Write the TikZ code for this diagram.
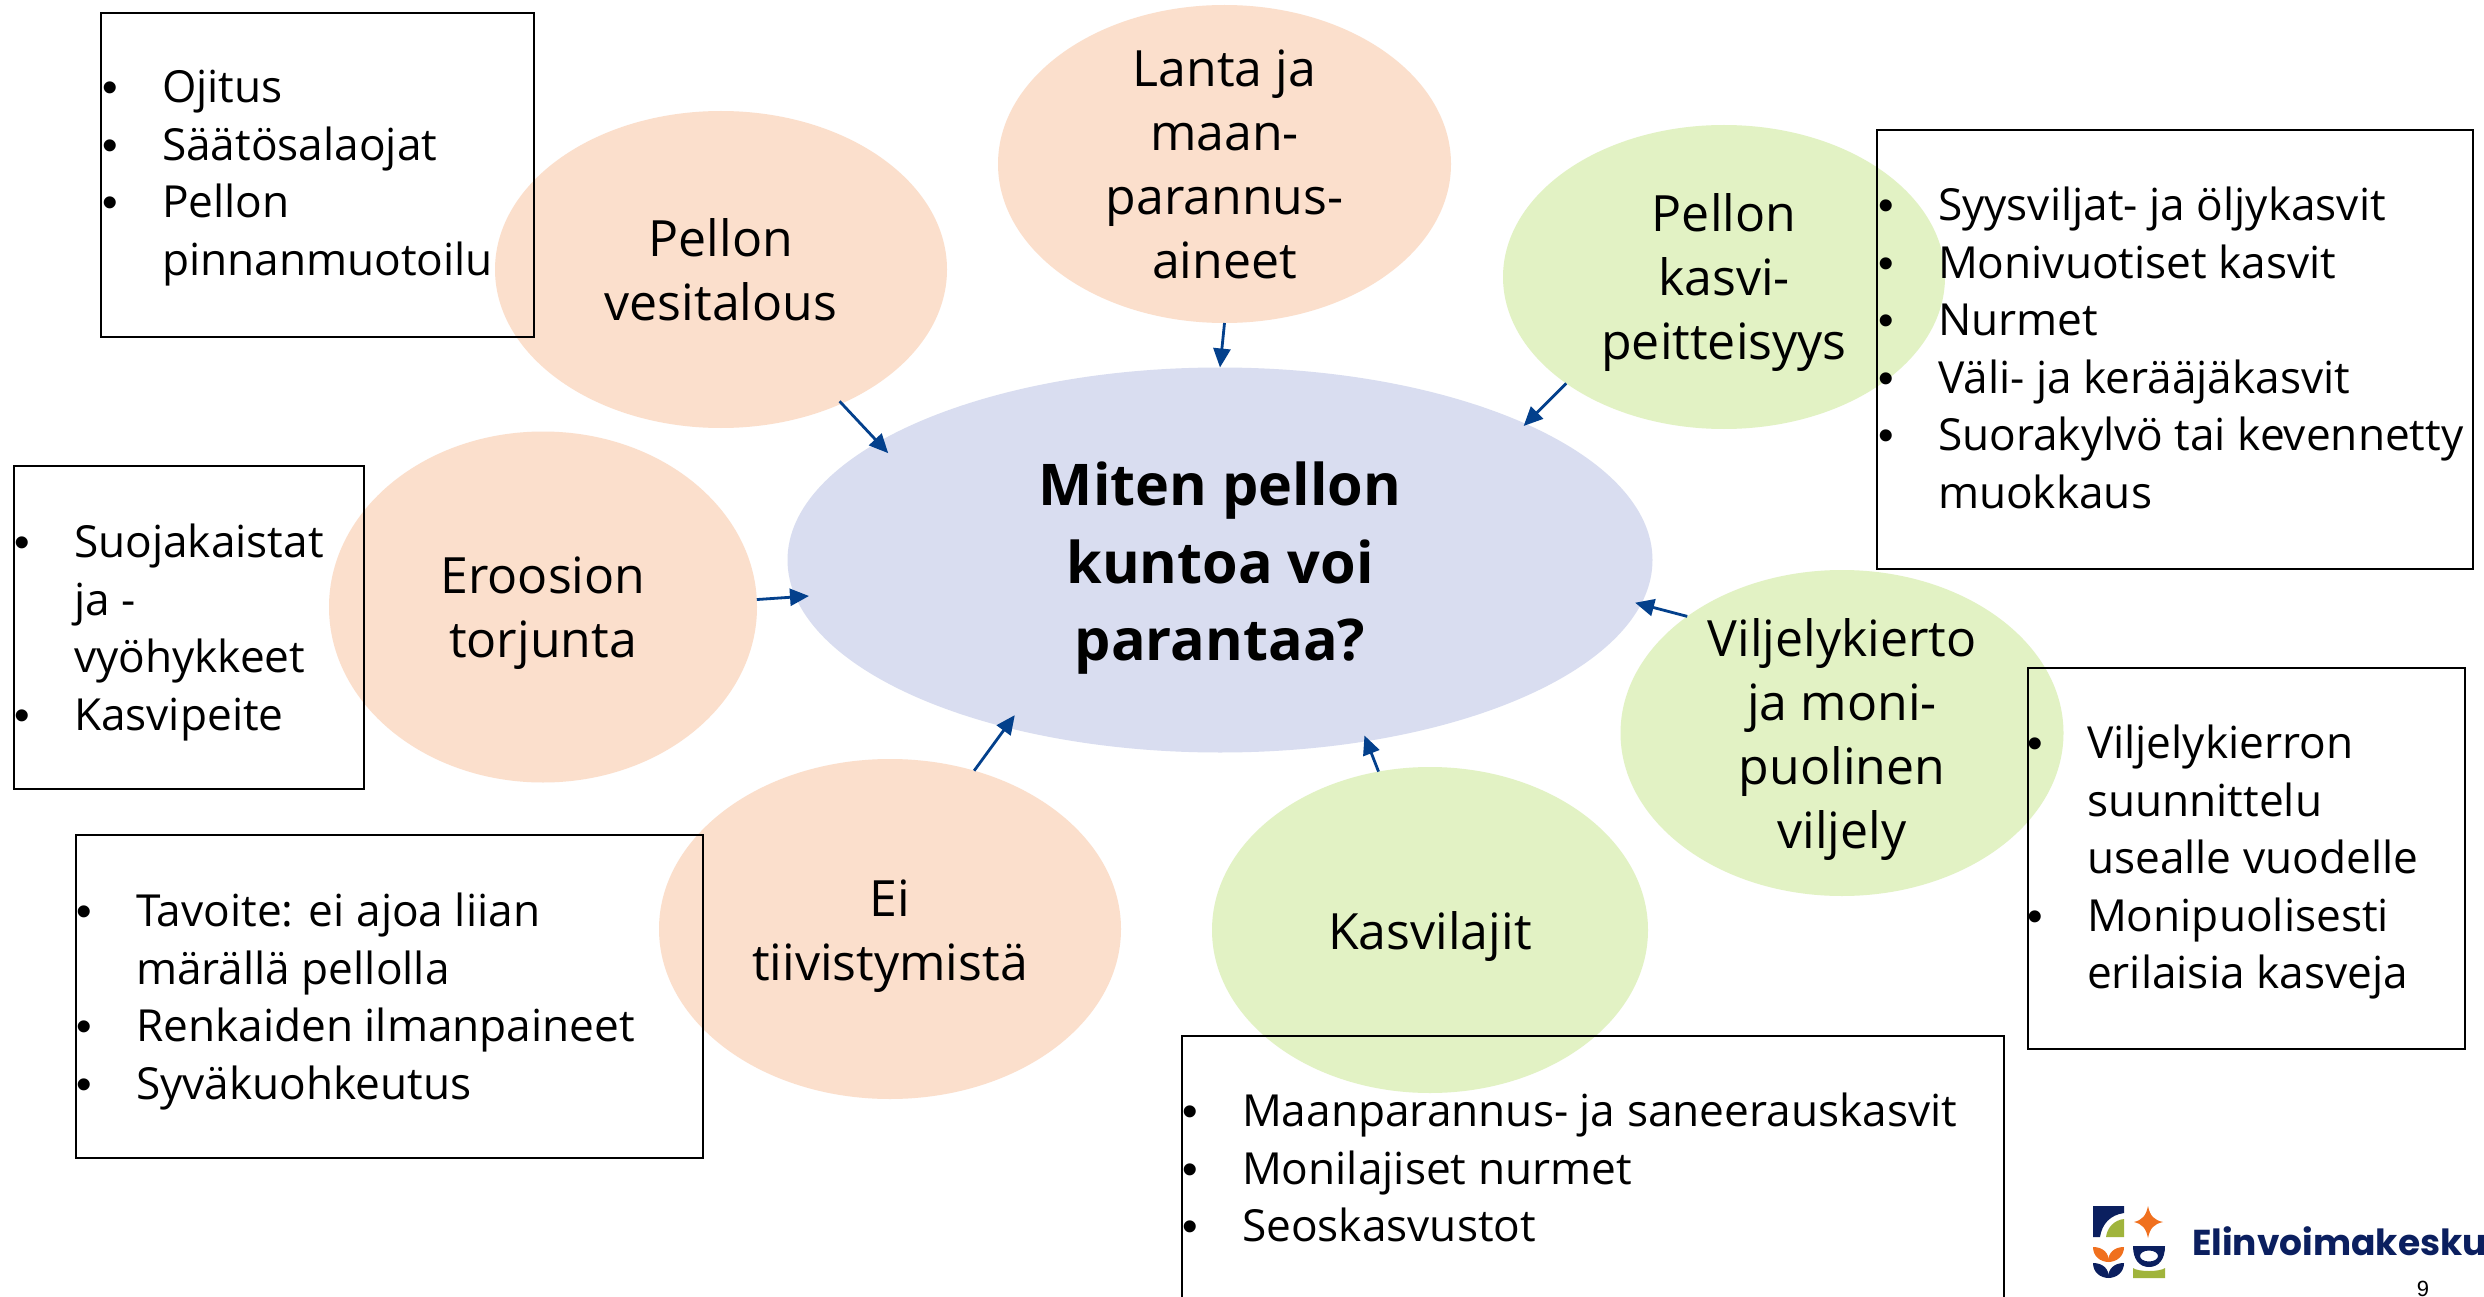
\documentclass[tikz,border=0pt]{standalone}
\usepackage{fontspec}
\setmainfont{Open Sans}
\newfontfamily\logofont{Poppins}
\newfontfamily\numfont{Liberation Sans}
\usetikzlibrary{shapes.geometric,arrows.meta}
\definecolor{peach}{HTML}{FBDFCC}
\definecolor{bluefill}{HTML}{D9DDF0}
\definecolor{greenfill}{HTML}{E2F2C4}
\definecolor{arrowblue}{HTML}{03408C}
\definecolor{logonavy}{HTML}{0B1F5F}
\definecolor{logoorange}{HTML}{F0701E}
\definecolor{logogreen}{HTML}{A0B43C}
\newcommand{\blt}{\rule{0pt}{40pt}\llap{\makebox[60pt][l]{{\numfont\textbullet}}}}
\newcommand{\nbl}{\rule{0pt}{40pt}}
\newcommand{\bs}{\rule[-12pt]{0pt}{62pt}}
\newcommand{\cs}{\rule[-14pt]{0pt}{74pt}}
\tikzset{
  blob/.style={ellipse,draw=none,inner sep=0pt,outer sep=0pt},
  peachblob/.style={blob,fill=peach},
  greenblob/.style={blob,fill=greenfill},
  blobtext/.style={inner sep=0pt,outer sep=0pt,align=center,font=\fontsize{50}{64}\selectfont},
  centertext/.style={inner sep=0pt,outer sep=0pt,align=center,font=\fontsize{57.5}{77.6}\selectfont\bfseries},
  listbox/.style={rectangle,draw=black,line width=2pt,fill=none,inner sep=0pt,outer sep=0pt,anchor=north west},
  listtext/.style={inner sep=0pt,outer sep=0pt,anchor=north west,align=left,font=\fontsize{44.2}{57.6}\selectfont},
  conn/.style={draw=arrowblue,line width=2.8pt,-{Triangle[length=19pt,width=17pt]}}
}
\begin{document}
\begin{tikzpicture}[x=1pt,y=-1pt]
\clip (0,0) rectangle (2484,1297);
\fill[white] (0,0) rectangle (2484,1297);
% ellipses
\node[blob,fill=bluefill,minimum width=865pt,minimum height=385pt] (c) at (1220,560) {};
\node[peachblob,minimum width=453pt,minimum height=318pt] (lanta) at (1224.5,164) {};
\node[peachblob,minimum width=452pt,minimum height=317pt] (vesi) at (721,269.5) {};
\node[greenblob,minimum width=442pt,minimum height=304pt] (kasvi) at (1724,277) {};
\node[greenblob,minimum width=443pt,minimum height=326pt] (vilj) at (1842,733) {};
\node[greenblob,minimum width=436pt,minimum height=326pt] (laji) at (1430,930) {};
\node[peachblob,minimum width=462pt,minimum height=340pt] (tiiv) at (890,929) {};
\node[peachblob,minimum width=428pt,minimum height=351pt] (eroo) at (543,607) {};
% ellipse texts
\node[centertext] (ct) at (c) {\cs Miten pellon\\kuntoa voi\\\cs parantaa?};
\node[blobtext] (lantat) at (lanta) {\bs Lanta ja\\maan-\\parannus-\\\bs aineet};
\node[blobtext] (vesit) at (vesi) {\bs Pellon\\\bs vesitalous};
\node[blobtext] (kasvit) at (kasvi) {\bs Pellon\\kasvi-\\\bs peitteisyys};
\node[blobtext] (viljt) at (vilj) {\bs Viljelykierto\\ja moni-\\puolinen\\\bs viljely};
\node[blobtext] (lajit) at (laji) {\bs Kasvilajit};
\node[blobtext] (tiivt) at (tiiv) {\bs Ei\\\bs tiivistymistä};
\node[blobtext] (eroot) at (eroo) {\bs Eroosion\\\bs torjunta};
% connectors
\coordinate (etip) at (809,596);
\draw[conn] (lanta.south) -- (c.north);
\draw[conn,shorten <=-3pt,shorten >=-15pt] (vesi.-48) -- (c.161.3);
\draw[conn,shorten >=-3pt] (kasvi.214.7) -- (c.24.2);
\draw[conn,shorten >=-6pt] (vilj.143.4) -- (c.-6.2);
\draw[conn,shorten >=-6pt] (laji.108) -- (c.-51.4);
\draw[conn,shorten >=-15pt] (tiiv.62) -- (c.218.5);
\draw[conn] (eroo.2.7) -- (etip);
% boxes
\node[listbox,minimum width=433pt,minimum height=324pt] (b1) at (101,13) {};
\node[listbox,minimum width=350pt,minimum height=323pt] (b2) at (14,466) {};
\node[listbox,minimum width=627pt,minimum height=323pt] (b3) at (76,835) {};
\node[listbox,minimum width=822pt,minimum height=300pt] (b4) at (1182,1036) {};
\node[listbox,minimum width=596pt,minimum height=439pt] (b5) at (1877,130) {};
\node[listbox,minimum width=437pt,minimum height=381pt] (b6) at (2028,668) {};
% list texts
\node[listtext] (t1) at (162,62.5) {\blt Ojitus\\\blt Säätösalaojat\\\blt Pellon\\\nbl pinnanmuotoilu};
\node[listtext] (t2) at (74,517.5) {\blt Suojakaistat\\\nbl ja -\\\nbl vyöhykkeet\\\blt Kasvipeite};
\node[listtext] (t3) at (136,886.5) {\blt Tavoite: ei ajoa liian\\\nbl märällä pellolla\\\blt Renkaiden ilmanpaineet\\\blt Syväkuohkeutus};
\node[listtext] (t4) at (1242,1086.5) {\blt Maanparannus- ja saneerauskasvit\\\blt Monilajiset nurmet\\\blt Seoskasvustot};
\node[listtext] (t5) at (1938,180.5) {\blt Syysviljat- ja öljykasvit\\\blt Monivuotiset kasvit\\\blt Nurmet\\\blt Väli- ja kerääjäkasvit\\\blt Suorakylvö tai kevennetty\\\nbl muokkaus};
\node[listtext] (t6) at (2087,718.5) {\blt Viljelykierron\\\nbl suunnittelu\\\nbl usealle vuodelle\\\blt Monipuolisesti\\\nbl erilaisia kasveja};
% logo
\fill[logonavy] (2093,1206) -- (2124,1206) -- (2124,1213) .. controls (2110,1215) and (2102,1224) .. (2100,1237) -- (2093,1237) -- cycle;
\fill[logogreen] (2106,1237) .. controls (2107,1228) and (2114,1220) .. (2124,1219) -- (2124,1237) -- cycle;
\fill[logoorange] (2148,1206) .. controls (2150,1216) and (2154,1220) .. (2163,1222) .. controls (2154,1224) and (2150,1228) .. (2148,1238) .. controls (2146,1228) and (2142,1224) .. (2134,1222) .. controls (2142,1220) and (2146,1216) .. (2148,1206) -- cycle;
\fill[logoorange] (2093,1247) .. controls (2103,1247) and (2109,1253) .. (2109,1262) .. controls (2100,1262) and (2093,1256) .. (2093,1247) -- cycle;
\fill[logoorange] (2124,1247) .. controls (2114,1247) and (2108,1253) .. (2108,1262) .. controls (2117,1262) and (2124,1256) .. (2124,1247) -- cycle;
\fill[logonavy] (2093,1263) .. controls (2103,1263) and (2109,1269) .. (2109,1278) .. controls (2100,1278) and (2093,1272) .. (2093,1263) -- cycle;
\fill[logonavy] (2124,1263) .. controls (2114,1263) and (2108,1269) .. (2108,1278) .. controls (2117,1278) and (2124,1272) .. (2124,1263) -- cycle;
\fill[logonavy,even odd rule] (2133,1246) -- (2165,1246) .. controls (2165,1259) and (2159,1267) .. (2149,1267) .. controls (2139,1267) and (2133,1259) .. (2133,1246) -- cycle (2149,1256) ellipse [x radius=9,y radius=5.5];
\fill[logogreen] (2133,1268) .. controls (2138,1272) and (2160,1272) .. (2165,1268) -- (2165,1278) -- (2133,1278) -- cycle;
\node[inner sep=0pt,anchor=base west,text=logonavy,font=\fontsize{36}{36}\logofont\bfseries] (logotext) at (2192,1255) {Elinvoimakesku};
\node[inner sep=0pt,anchor=base,font=\fontsize{22}{22}\numfont] (pg) at (2423,1296) {9};
\end{tikzpicture}
\end{document}
